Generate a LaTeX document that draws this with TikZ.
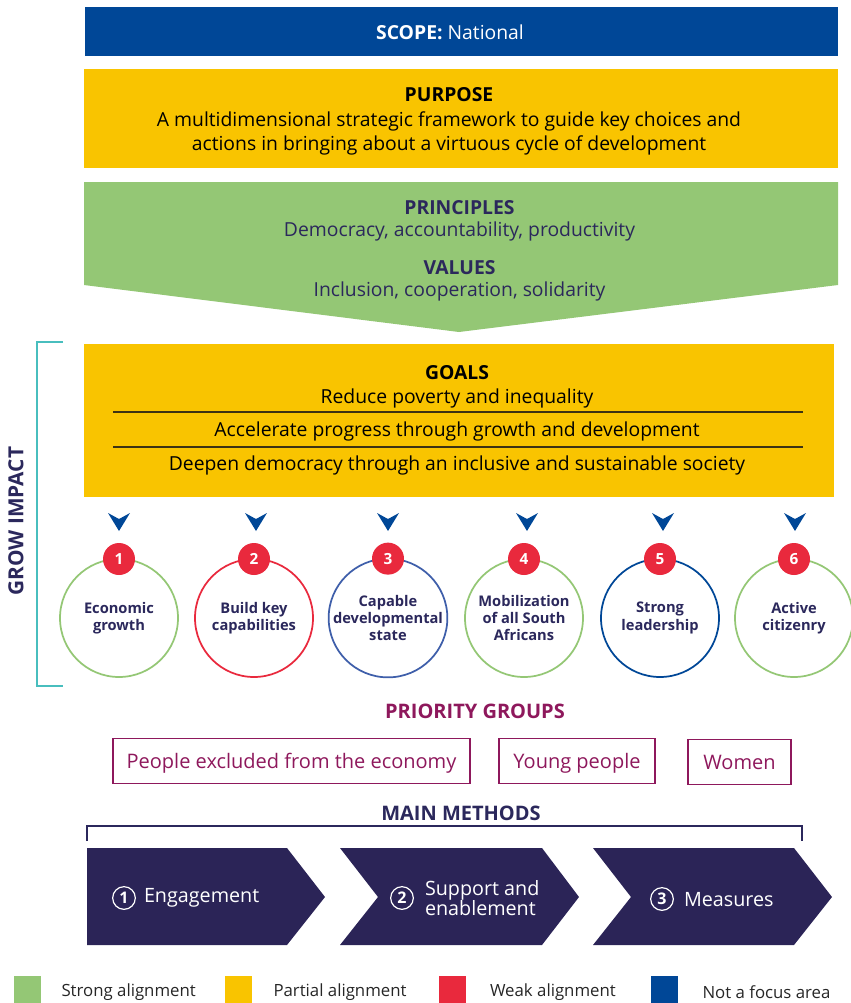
\documentclass[tikz,border=0pt]{standalone}
\usepackage{fontspec}
\setmainfont{Open Sans}
\usepackage{tikz}
\usetikzlibrary{positioning}
\usepackage{xcolor}

\definecolor{scopeblue}{RGB}{0,71,151}
\definecolor{sunyellow}{RGB}{249,196,0}
\definecolor{leafgreen}{RGB}{148,199,117}
\definecolor{badgered}{RGB}{233,41,61}
\definecolor{midblue}{RGB}{63,95,170}
\definecolor{navytext}{RGB}{43,40,92}
\definecolor{chevnavy}{RGB}{43,36,87}
\definecolor{berry}{RGB}{142,24,92}
\definecolor{tealline}{RGB}{72,190,190}
\definecolor{ruleline}{RGB}{60,50,20}

\begin{document}
\begin{tikzpicture}[x=0.75pt,y=-0.75pt,
every node/.style={inner sep=0pt,outer sep=0pt},
head/.style={font=\fontsize{14.5}{18}\selectfont\bfseries},
body/.style={font=\fontsize{14.5}{18}\selectfont,align=center},
goalcircle/.style={circle,draw=#1,line width=1.3pt,minimum size=88.5pt,fill=white,
  font=\fontsize{11}{13}\selectfont\bfseries,text=navytext,align=center},
badge/.style={circle,fill=badgered,minimum size=24pt,text=white,
  font=\fontsize{11.5}{12}\selectfont\bfseries},
groupbox/.style={draw=berry,line width=0.8pt,minimum height=33.75pt,
  text height=12.5pt,text depth=1pt,
  font=\fontsize{15}{16}\selectfont,text=berry},
numring/.style={circle,draw=white,line width=0.9pt,minimum size=17pt,text=white,
  font=\fontsize{12}{12}\selectfont\bfseries},
methodtxt/.style={font=\fontsize{14.8}{15}\selectfont,text=white,align=left,anchor=west},
keybox/.style={minimum size=20.25pt,fill=#1},
keytxt/.style={font=\fontsize{12.6}{14}\selectfont,text=black!85,anchor=west}]
\useasboundingbox (0,0) rectangle (850,1003);

% scope / purpose / principles
\fill[scopeblue] (85,7) rectangle (838,56);
\node[body,text=white] (scope) at (450,32) {\textbf{SCOPE:} National};
\fill[sunyellow] (84,69) rectangle (838,168);
\node[head] (purposehd) at (449,95) {PURPOSE};
\node[body] (purpose) at (449,133) {A multidimensional strategic framework to guide key choices and\\actions in bringing about a virtuous cycle of development};
\fill[leafgreen] (84,182) -- (838,182) -- (838,285) -- (459,332) -- (84,285) -- cycle;
\node[head,text=navytext] (princhd) at (459.5,208) {PRINCIPLES};
\node[body,text=navytext] (princ) at (459.5,231) {Democracy, accountability, productivity};
\node[head,text=navytext] (valhd) at (459.5,268) {VALUES};
\node[body,text=navytext] (val) at (459.5,291) {Inclusion, cooperation, solidarity};

% goals
\draw[tealline,line width=1.3pt] (63,342) -- (37,342) -- (37,686) -- (63,686);
\node[font=\fontsize{15.6}{18}\selectfont\bfseries,text=navytext,rotate=90] (grow) at (16,521) {GROW IMPACT};
\fill[sunyellow] (84,344) rectangle (834,497);
\node[head] (goalshd) at (457,373) {GOALS};
\node[body] (goal1) at (457,398) {Reduce poverty and inequality};
\node[body] (goal2) at (457,431) {Accelerate progress through growth and development};
\node[body] (goal3) at (457,465) {Deepen democracy through an inclusive and sustainable society};
\draw[ruleline,line width=0.8pt] (113,412) -- (803,412);
\draw[ruleline,line width=0.8pt] (113,447) -- (803,447);

\foreach \x in {119,256,388,527,663,795}
  \fill[scopeblue] (\x-11,513) -- (\x,531) -- (\x+11,513) -- (\x,519) -- cycle;

\foreach \i/\x/\col/\txt in {1/119/leafgreen/{Economic\\growth},
    2/254/badgered/{Build key\\capabilities},
    3/388/midblue/{Capable\\developmental\\state},
    4/524/leafgreen/{Mobilization\\of all South\\Africans},
    5/660/scopeblue/{Strong\\leadership},
    6/794/leafgreen/{Active\\citizenry}} {
  \node[goalcircle=\col] (c\i) at (\x,618) {\txt};
  \node[badge] (b\i) at (c\i.north) {\i};
}

% priority groups
\node[font=\fontsize{15}{16}\selectfont\bfseries,text=berry] (prio) at (475,711) {PRIORITY GROUPS};
\node[groupbox,minimum width=267.75pt] (gb1) at (291.5,761) {People excluded from the economy};
\node[groupbox,minimum width=117pt,right=21.75pt of gb1] (gb2) {Young people};
\node[groupbox,minimum width=77.25pt,right=24.75pt of gb2,yshift=-0.75pt] (gb3) {Women};

% main methods
\node[font=\fontsize{15}{16}\selectfont\bfseries,text=navytext] (meth) at (461,813) {MAIN METHODS};
\draw[navytext,line width=0.8pt] (87,841) -- (87,826) -- (802,826) -- (802,841);
\fill[chevnavy] (87,848) -- (287,848) -- (325,897) -- (287,945) -- (87,945) -- cycle;
\fill[chevnavy] (340,848) -- (542,848) -- (579,897) -- (542,945) -- (340,945) -- (378,897) -- cycle;
\fill[chevnavy] (593,848) -- (794,848) -- (832,897) -- (794,945) -- (593,945) -- (631,897) -- cycle;
\node[numring] (n1) at (124,898) {1};
\node[methodtxt] (m1) at (144,898) {Engagement};
\node[numring] (n2) at (402,898) {2};
\node[methodtxt] (m2) at (425,898) {Support and\\enablement};
\node[numring] (n3) at (662,899) {3};
\node[methodtxt] (m3) at (684,900) {Measures};

% legend
\node[keybox=leafgreen] (k1) at (27,989) {};
\node[keytxt,right=15.75pt of k1,yshift=-2pt] (k1t) {Strong alignment};
\node[keybox=sunyellow] (k2) at (238,989) {};
\node[keytxt,right=16.5pt of k2,yshift=-2pt] (k2t) {Partial alignment};
\node[keybox=badgered] (k3) at (452.5,989) {};
\node[keytxt,right=18pt of k3,yshift=-2.5pt] (k3t) {Weak alignment};
\node[keybox=scopeblue] (k4) at (664,989) {};
\node[keytxt,right=18.75pt of k4,yshift=-2pt] (k4t) {Not a focus area};
\end{tikzpicture}
\end{document}
